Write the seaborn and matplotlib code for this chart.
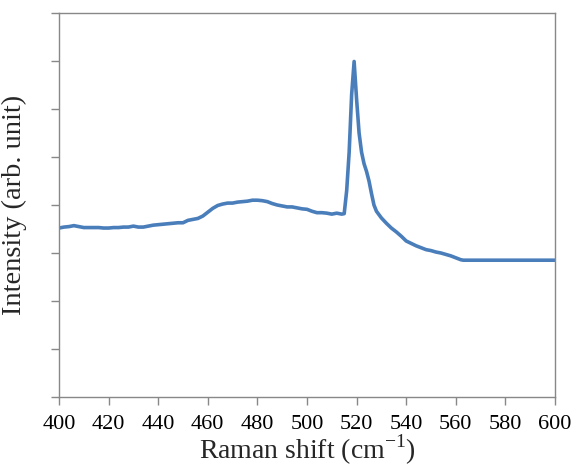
import matplotlib
matplotlib.use("Agg")
import matplotlib.pyplot as plt
import seaborn as sns
import pandas as pd

raman_shift = [400, 402, 404, 406, 408, 410, 412, 414, 416, 418, 420, 422, 424, 426, 428,
               430, 432, 434, 436, 438, 440, 442, 444, 446, 448, 450, 452, 454, 456, 458,
               460, 462, 464, 466, 468, 470, 472, 474, 476, 478, 480, 482, 484, 486, 488,
               490, 492, 494, 496, 498, 500, 502, 504, 506, 508, 510, 512, 514, 515, 516,
               517, 518, 519, 520, 521, 522, 523, 524, 525, 526, 527, 528, 530, 532, 534,
               536, 538, 540, 542, 544, 546, 548, 550, 552, 554, 556, 558, 560, 562, 563, 600]
intensity = [3.52, 3.54, 3.55, 3.57, 3.55, 3.53, 3.53, 3.53, 3.53, 3.52, 3.52, 3.53, 3.53, 3.54, 3.54,
             3.56, 3.54, 3.54, 3.56, 3.58, 3.59, 3.60, 3.61, 3.62, 3.63, 3.63, 3.68, 3.70, 3.72, 3.77,
             3.85, 3.93, 3.99, 4.02, 4.04, 4.04, 4.06, 4.07, 4.08, 4.10, 4.10, 4.09, 4.07, 4.03, 4.00,
             3.98, 3.96, 3.96, 3.94, 3.92, 3.91, 3.87, 3.84, 3.84, 3.83, 3.81, 3.83, 3.81, 3.82, 4.30,
             5.10, 6.30, 6.99, 6.20, 5.50, 5.10, 4.86, 4.70, 4.50, 4.24, 4.00, 3.87, 3.73, 3.62, 3.52,
             3.44, 3.35, 3.25, 3.20, 3.15, 3.11, 3.07, 3.05, 3.02, 3.00, 2.97, 2.94, 2.90, 2.86, 2.85, 2.85]
x_ticks = list(range(400, 601, 20))
y_ticks = list(range(0, 9))

df = pd.DataFrame({"shift": raman_shift, "intensity": intensity})

sns.set_style("white")
plt.rcParams["font.family"] = ["Liberation Serif", "DejaVu Serif"]

fig = plt.figure(figsize=(5.74, 4.69), dpi=100)
ax = fig.add_axes([59/574, 1-397/469, (555-59)/574, (397-13)/469])
sns.lineplot(data=df, x="shift", y="intensity", ax=ax, color="#4A7EBB", linewidth=2.6)

ax.set_xlim(400, 600)
ax.set_ylim(0, 8)
ax.set_xticks(x_ticks)
ax.set_yticks(y_ticks)
ax.set_yticklabels([])
ax.tick_params(axis="both", direction="out", length=6, width=1, color="#888888",
               labelsize=16, pad=7, bottom=True, left=True)
ax.tick_params(axis="x", labelcolor="black")
for s in ax.spines.values():
    s.set_color("#888888")
    s.set_linewidth(1)
ax.set_xlabel("Raman shift (cm$^{\\mathregular{-1}}$)", fontsize=20, labelpad=-1)
ax.set_ylabel("Intensity (arb. unit)", fontsize=20.5, labelpad=10)

fig.savefig("out.png", dpi=100)
